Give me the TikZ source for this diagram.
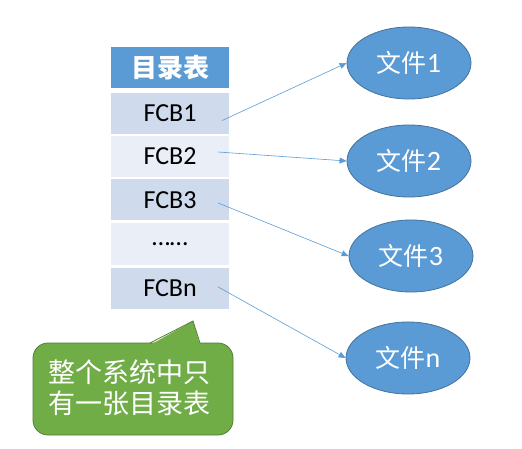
\documentclass[tikz,border=0pt]{standalone}
\usepackage{fontspec}
\setmainfont{Carlito}
\newfontfamily\cjk{Noto Sans CJK SC}
\usetikzlibrary{arrows.meta,shapes.geometric}
\definecolor{hdrblue}{HTML}{5B9BD5}
\definecolor{rowdark}{HTML}{CFDAEC}
\definecolor{rowlight}{HTML}{E9EEF7}
\definecolor{ellborder}{HTML}{41719C}
\definecolor{callgreen}{HTML}{70AD47}
\definecolor{callborder}{HTML}{507E32}
\definecolor{arrowblue}{HTML}{5B9BD5}
\begin{document}
\begin{tikzpicture}[x=1pt,y=-1pt,
  rowbox/.style={minimum width=118pt,minimum height=41pt,inner sep=0pt,font=\fontsize{26}{28}\selectfont,text=black},
  filenode/.style={ellipse,fill=hdrblue,draw=ellborder,line width=0.8pt,minimum width=124pt,minimum height=72pt,inner sep=0pt,text=white,font=\fontsize{28}{30}\selectfont},
  link/.style={draw=arrowblue,line width=0.6pt,-{Triangle[length=7pt,width=6pt]}}]
\useasboundingbox (0,0) rectangle (522,449);
% table
\node[rowbox,fill=hdrblue,text=white,font=\cjk\fontsize{26}{28}\selectfont\bfseries] (hdr) at (170,68) {目录表};
\node[rowbox,fill=rowdark] (fcb1) at (170,113.5) {FCB1};
\node[rowbox,fill=rowlight] (fcb2) at (170,156.5) {FCB2};
\node[rowbox,fill=rowdark] (fcb3) at (170,200) {FCB3};
\node[rowbox,fill=rowlight] (dots) at (170,244) {……};
\node[rowbox,fill=rowdark] (fcbn) at (170,288) {FCBn};
% files
\node[filenode] (f1) at (409,63) {{\cjk\fontsize{25}{28}\selectfont 文件}1};
\node[filenode] (f2) at (409,161) {{\cjk\fontsize{25}{28}\selectfont 文件}2};
\node[filenode] (f3) at (411,256) {{\cjk\fontsize{25}{28}\selectfont 文件}3};
\node[filenode] (fn) at (408,358) {{\cjk\fontsize{25}{28}\selectfont 文件}n};
% links
\draw[link] ([xshift=-7pt,yshift=-7pt]fcb1.east) -- (f1.west);
\draw[link] ([xshift=-11pt,yshift=4.5pt]fcb2.east) -- (f2.west);
\draw[link] ([xshift=-11pt,yshift=-3pt]fcb3.east) -- (f3.west);
\draw[link] ([xshift=-11pt,yshift=1pt]fcbn.east) -- (fn.west);
% callout
\node[draw=callborder,fill=callgreen,line width=0.8pt,rounded corners=15pt,minimum width=200pt,minimum height=92pt,inner sep=0pt] (call) at (133,389) {};
\fill[callgreen] (150,345) -- (193,321) -- (200,345) -- cycle;
\draw[callborder,line width=0.8pt,line join=miter] (150,343) -- (193,321) -- (200,343);
\node[text=white,font=\cjk\fontsize{27}{31}\selectfont,align=left,inner sep=0pt] (calltext) at (129,388) {整个系统中只\\有一张目录表};
\end{tikzpicture}
\end{document}
